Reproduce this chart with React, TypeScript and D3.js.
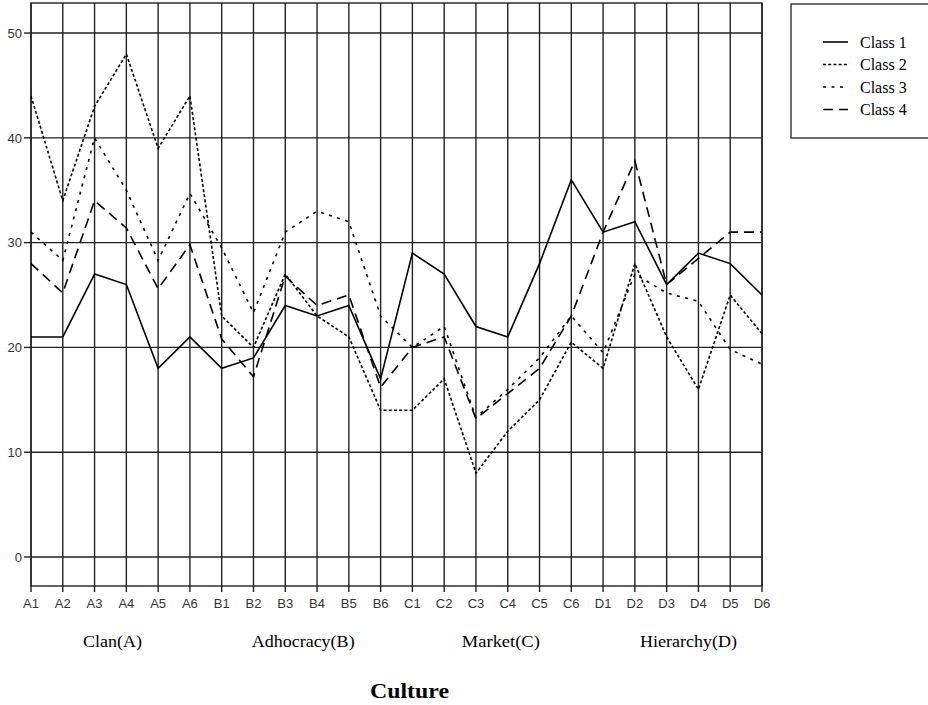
import React from "react";
import * as d3 from "d3";

const categories = ["A1","A2","A3","A4","A5","A6","B1","B2","B3","B4","B5","B6","C1","C2","C3","C4","C5","C6","D1","D2","D3","D4","D5","D6"];
const class1 = [21,21,27,26,18,21,18,19,24,23,24,17,29,27,22,21,28,36,31,32,26,29,28,25];
const class2 = [44,34,43,48,39,44,23,20,27,23,21,14,14,17,8,12,15,20.5,18,28,21,16,25,21.3];
const class3 = [31,28.3,40,35,28.3,34.7,29.5,23.3,31,33,32,23,20,22,13.3,16,19,23,19.5,27,25.2,24.4,19.8,18.4];
const class4 = [28,25.2,34,31.4,25.6,29.8,20.8,17.2,26.8,24,25,16.2,20,21,13.2,15.6,18,23,31,37.8,26,28.5,31,31];
const seriesNames = ["Class 1","Class 2","Class 3","Class 4"];
const yTicks = [0,10,20,30,40,50];
const groups = ["Clan(A)","Adhocracy(B)","Market(C)","Hierarchy(D)"];

const dashes = [null, "3,2.2", "3,5.5", "10,6"];

export default function App() {
  const W = 928, H = 705;
  const left = 31, right = 762, top = 3, bottom = 586;
  const x = d3.scalePoint<string>().domain(categories).range([left, right]);
  const y = d3.scaleLinear().domain([-2.77, 52.87]).range([bottom, top]);
  const line = d3.line<number>().x((_, i) => x(categories[i])!).y(d => y(d));
  const all = [class1, class2, class3, class4];
  const step = x.step();
  const groupOffsets = [2, 2, 9, 6];
  const groupWidths = [59, 103, 78, 97];
  const gridColor = "#222";
  return (
    <svg width={W} height={H} style={{ position: "absolute", left: 0, top: 0, background: "#fff" }}>
      <rect x={left} y={top} width={right - left} height={bottom - top} fill="none" stroke={gridColor} strokeWidth={1.4} />
      {yTicks.map(t => (
        <g key={t}>
          <line x1={left} x2={right} y1={y(t)} y2={y(t)} stroke={gridColor} strokeWidth={1.4} />
          <line x1={left - 7} x2={left} y1={y(t)} y2={y(t)} stroke={gridColor} strokeWidth={1.4} />
          <text x={left - 9} y={y(t)} dy="0.36em" textAnchor="end" fontFamily="Liberation Sans, Arial, sans-serif" fontSize={13} fill="#333">{t}</text>
        </g>
      ))}
      {categories.map(c => (
        <g key={c}>
          <line x1={x(c)} x2={x(c)} y1={top} y2={bottom + 6} stroke={gridColor} strokeWidth={1.4} />
          <text x={x(c)} y={bottom + 22} textAnchor="middle" fontFamily="Liberation Sans, Arial, sans-serif" fontSize={13} fill="#333">{c}</text>
        </g>
      ))}
      {all.map((s, i) => (
        <path key={i} d={line(s)!} fill="none" stroke="#000" strokeWidth={1.6}
          strokeDasharray={dashes[i] ?? undefined} />
      ))}
      {groups.map((g, i) => (
        <text key={g} x={x(categories[i * 6])! + step * 2.5 + groupOffsets[i]} y={647} textAnchor="middle"
          fontFamily="Liberation Serif, Times New Roman, serif" fontSize={17}
          textLength={groupWidths[i]} lengthAdjust="spacingAndGlyphs" fill="#000">{g}</text>
      ))}
      <text x={409.5} y={698} textAnchor="middle" fontFamily="Liberation Serif, Times New Roman, serif" fontSize={22} fontWeight="bold"
        textLength={79} lengthAdjust="spacingAndGlyphs" fill="#000">Culture</text>
      <rect x={791} y={4} width={150} height={134} fill="#fff" stroke="#222" strokeWidth={1.3} />
      {seriesNames.map((n, i) => {
        const ly = 42 + i * 22.5;
        return (
          <g key={n}>
            <line x1={823} x2={848} y1={ly} y2={ly} stroke="#000" strokeWidth={1.6} strokeDasharray={dashes[i] ?? undefined} />
            <text x={860} y={ly} dy="0.35em" fontFamily="Liberation Serif, Times New Roman, serif" fontSize={16} fill="#000">{n}</text>
          </g>
        );
      })}
    </svg>
  );
}
